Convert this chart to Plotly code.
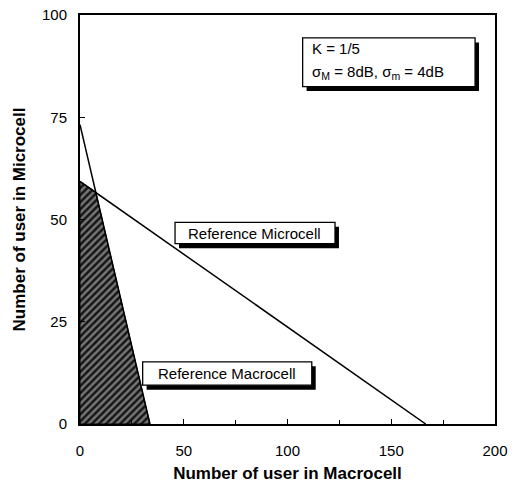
import plotly.graph_objects as go

# Data
micro_x = [0, 166.6]
micro_y = [59.3, 0]
macro_x = [0, 33.7]
macro_y = [73.2, 0]
region_x = [0, 0, 7.6, 33.7, 0]
region_y = [0, 59.3, 56.7, 0, 0]
x_ticks = [0, 50, 100, 150, 200]
y_ticks = [0, 25, 50, 75, 100]

FONT = "Liberation Sans, Arial, sans-serif"

fig = go.Figure()
fig.add_trace(go.Scatter(
    x=region_x, y=region_y, mode="lines", line=dict(color="black", width=1),
    fill="toself", fillcolor="#1a1a1a",
    fillpattern=dict(shape="/", fgcolor="#d8d8d8", bgcolor="#151515", size=5, solidity=0.5),
    hoverinfo="skip", showlegend=False))
fig.add_trace(go.Scatter(x=micro_x, y=micro_y, mode="lines",
                         line=dict(color="black", width=1.5), showlegend=False))
fig.add_trace(go.Scatter(x=macro_x, y=macro_y, mode="lines",
                         line=dict(color="black", width=1.5), showlegend=False))

shapes = []
annotations = []

def box(x0, x1, y0, y1, sx=1.9, sy=1.1):
    # drop shadow
    shapes.append(dict(type="rect", xref="x", yref="y", x0=x0 + sx, x1=x1 + sx,
                       y0=y0 - sy, y1=y1 - sy, fillcolor="black", line=dict(width=0), layer="above"))
    shapes.append(dict(type="rect", xref="x", yref="y", x0=x0, x1=x1, y0=y0, y1=y1,
                       fillcolor="white", line=dict(color="black", width=1.3), layer="above"))

TXT = dict(family=FONT, size=15, color="black")

box(45.8, 122.9, 44.1, 49.3)
annotations.append(dict(x=84.3, y=46.7, xref="x", yref="y", text="Reference Microcell",
                        showarrow=False, font=TXT))
box(30.2, 111.7, 9.5, 15.2)
annotations.append(dict(x=70.9, y=12.35, xref="x", yref="y", text="Reference Macrocell",
                        showarrow=False, font=TXT))
box(107.3, 190.4, 82.5, 94.4)
annotations.append(dict(x=111.0, y=91.9, xref="x", yref="y", text="K = 1/5", xanchor="left",
                        showarrow=False, font=TXT))
annotations.append(dict(x=111.0, y=85.9, xref="x", yref="y",
                        text="σ<sub>M</sub> = 8dB, σ<sub>m</sub> = 4dB", xanchor="left",
                        showarrow=False, font=TXT))

fig.update_layout(
    width=516, height=483,
    margin=dict(l=80, r=21, t=15, b=59),
    plot_bgcolor="white", paper_bgcolor="white",
    shapes=shapes, annotations=annotations,
    font=dict(family=FONT, size=15, color="black"),
    xaxis=dict(range=[0, 200], tickvals=x_ticks, ticks="inside", ticklen=5,
               tickcolor="black", showline=True, linecolor="black", linewidth=2,
               mirror=True, showgrid=False, zeroline=False, ticklabelstandoff=12,
               automargin=False,
               tickfont=dict(family=FONT, size=15),
               minor=dict(dtick=25, ticks="inside", ticklen=4, tickcolor="black"),
               title=dict(text="<b>Number of user in Macrocell</b>", standoff=9,
                          font=dict(family=FONT, size=17))),
    yaxis=dict(range=[0, 100], tickvals=y_ticks, ticks="inside", ticklen=5,
               tickcolor="black", showline=True, linecolor="black", linewidth=2,
               mirror=True, showgrid=False, zeroline=False, ticklabelstandoff=8,
               automargin=False,
               tickfont=dict(family=FONT, size=15),
               title=dict(text="<b>Number of user in Microcell</b>", standoff=12,
                          font=dict(family=FONT, size=17))),
)

fig.write_html("out.html")
